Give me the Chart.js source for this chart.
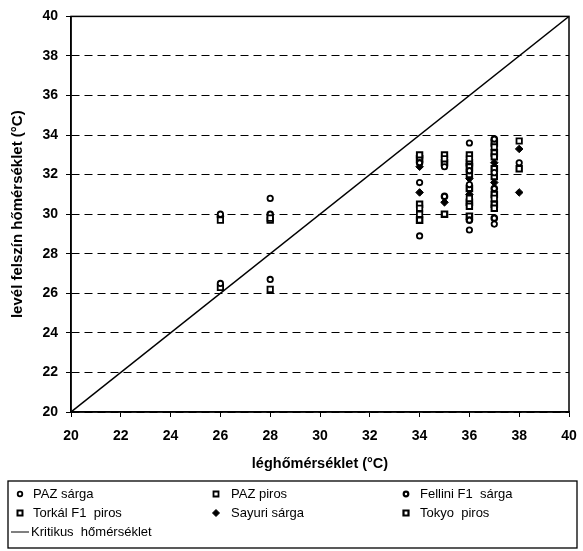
<!DOCTYPE html>
<html>
<head>
<meta charset="utf-8">
<script src="https://cdn.jsdelivr.net/npm/chart.js@4/dist/chart.umd.min.js"></script>
<style>
  html, body { margin: 0; padding: 0; background: #fff; }
  #wrap { width: 583px; height: 551px; }
</style>
</head>
<body>
<div id="wrap"><canvas id="chartHomerseklet" width="583" height="551"></canvas></div>
<script>
// léghőmérséklet (x) és levélhőmérséklet (y) fajtánként
const pazSargaX = [26, 26, 28, 28, 34, 34, 35, 36, 36, 36, 37, 37, 38];
const pazSargaY = [30.0, 26.5, 30.8, 26.7, 31.6, 28.9, 32.4, 33.6, 31.5, 29.2, 32.1, 29.5, 32.6];

const pazPirosX = [26, 26, 28, 28, 34, 34, 35, 36, 36, 37, 37, 38];
const pazPirosY = [29.7, 26.3, 29.8, 26.2, 30.3, 30.0, 32.8, 32.8, 30.8, 33.4, 30.8, 33.7];

const felliniX = [26, 28, 34, 35, 36, 36, 37, 37, 37];
const felliniY = [29.9, 30.0, 32.6, 30.9, 32.2, 29.7, 33.8, 31.3, 29.8];

const torkalX = [28, 34, 34, 35, 36, 36, 36, 37, 37, 37, 38];
const torkalY = [29.7, 33.0, 30.5, 33.0, 33.0, 32.0, 30.4, 32.9, 31.9, 30.3, 32.3];

const sayuriX = [34, 34, 35, 36, 36, 37, 37, 38, 38];
const sayuriY = [31.1, 32.4, 30.6, 31.8, 31.0, 32.6, 31.6, 33.3, 31.1];

const tokyoX = [34, 34, 35, 35, 36, 36, 36, 36, 36, 37, 37, 37, 37, 37];
const tokyoY = [32.8, 29.7, 32.6, 30.0, 32.6, 32.4, 31.3, 30.6, 29.9, 33.6, 33.1, 32.3, 31.0, 30.5];

// kritikus hőmérséklet: levél = levegő
const kritikusX = [20, 40];
const kritikusY = [20, 40];

const FONT = "'Liberation Sans', Arial, sans-serif";

function pontok(xs, ys) {
    return xs.map((x, i) => ({ x: x, y: ys[i] }));
}

function sorozat(label, xs, ys, style, radius, fill, bw) {
    return {
        label: label,
        data: pontok(xs, ys),
        showLine: false,
        pointStyle: style,
        pointRadius: radius,
        pointHoverRadius: radius,
        pointBackgroundColor: fill,
        pointBorderColor: '#000',
        pointBorderWidth: bw
    };
}

const datasets = [
    sorozat('PAZ sárga', pazSargaX, pazSargaY, 'circle', 2.7, '#fff', 1.8),
    sorozat('PAZ piros', pazPirosX, pazPirosY, 'rect', 3.8, '#fff', 1.8),
    sorozat('Fellini F1  sárga', felliniX, felliniY, 'circle', 2.7, '#fff', 2.2),
    sorozat('Torkál F1  piros', torkalX, torkalY, 'rect', 3.8, '#fff', 2),
    sorozat('Sayuri sárga', sayuriX, sayuriY, 'rectRot', 3.8, '#000', 1),
    sorozat('Tokyo  piros', tokyoX, tokyoY, 'rect', 3.8, '#fff', 2.2),
    {
        label: 'Kritikus  hőmérséklet',
        data: pontok(kritikusX, kritikusY),
        showLine: true,
        borderColor: '#000',
        borderWidth: 1.5,
        pointRadius: 0,
        pointHoverRadius: 0,
        fill: false
    }
];

// keret + saját jelmagyarázat dobozban
const keretEsJelmagyarazat = {
    id: 'keretEsJelmagyarazat',
    afterDraw(chart) {
        const { ctx, chartArea: a } = chart;
        ctx.save();
        ctx.strokeStyle = '#000';
        ctx.lineWidth = 1.5;
        ctx.strokeRect(a.left, a.top, a.right - a.left, a.bottom - a.top);

        // doboz
        ctx.lineWidth = 1.3;
        ctx.strokeRect(8, 481, 569, 67);

        const oszlopJel = [20, 216, 406];
        const oszlopSzoveg = [33, 231, 420];
        const sorY = [494, 513, 532];

        ctx.font = '13px ' + FONT;
        ctx.textBaseline = 'middle';
        ctx.fillStyle = '#000';

        chart.data.datasets.forEach((ds, i) => {
            const col = i % 3;
            const row = Math.floor(i / 3);
            const mx = oszlopJel[col];
            const my = sorY[row];
            ctx.strokeStyle = '#000';
            ctx.lineWidth = ds.pointBorderWidth || 1.5;
            ctx.fillStyle = ds.pointBackgroundColor || '#fff';
            if (ds.showLine) {
                ctx.lineWidth = 1;
                ctx.beginPath();
                ctx.moveTo(11, my);
                ctx.lineTo(29, my);
                ctx.stroke();
                ctx.fillStyle = '#000';
                ctx.fillText(ds.label, 31, my);
                return;
            }
            ctx.beginPath();
            if (ds.pointStyle === 'circle') {
                ctx.arc(mx, my, 2.3, 0, Math.PI * 2);
            } else if (ds.pointStyle === 'rect') {
                ctx.rect(mx - 2.5, my - 2.5, 5, 5);
            } else {
                ctx.moveTo(mx, my - 3.5);
                ctx.lineTo(mx + 3.5, my);
                ctx.lineTo(mx, my + 3.5);
                ctx.lineTo(mx - 3.5, my);
                ctx.closePath();
            }
            ctx.fill();
            ctx.stroke();
            ctx.fillStyle = '#000';
            ctx.fillText(ds.label, oszlopSzoveg[col], my);
        });
        ctx.restore();
    }
};

const ctx = document.getElementById('chartHomerseklet').getContext('2d');

new Chart(ctx, {
    type: 'scatter',
    data: { datasets: datasets },
    plugins: [keretEsJelmagyarazat],
    options: {
        responsive: false,
        animation: false,
        events: [],
        layout: { padding: { top: 15, right: 14, bottom: 71, left: 0 } },
        plugins: {
            legend: { display: false },
            tooltip: { enabled: false }
        },
        scales: {
            x: {
                type: 'linear',
                min: 20,
                max: 40,
                afterFit: s => {
                    s.height = 68;
                    s.paddingLeft = 8;
                    s.paddingRight = 8;
                },
                ticks: {
                    stepSize: 2,
                    color: '#000',
                    padding: 11,
                    font: { family: FONT, size: 14, weight: 'bold' }
                },
                grid: {
                    drawOnChartArea: false,
                    drawTicks: true,
                    tickLength: 5,
                    tickColor: '#000',
                    tickWidth: 1
                },
                border: { color: '#000', width: 1.5 },
                title: {
                    display: true,
                    text: 'léghőmérséklet (°C)',
                    color: '#000',
                    font: { family: FONT, size: 14.5, weight: 'bold' },
                    padding: { top: 0, bottom: 7 }
                }
            },
            y: {
                type: 'linear',
                min: 20,
                max: 40,
                afterFit: s => { s.width = 71; },
                ticks: {
                    stepSize: 2,
                    color: '#000',
                    padding: 8,
                    font: { family: FONT, size: 14, weight: 'bold' }
                },
                grid: {
                    color: '#000',
                    lineWidth: 1,
                    drawTicks: true,
                    tickLength: 5,
                    tickColor: '#000',
                    tickWidth: 1,
                    tickBorderDash: []
                },
                border: { color: '#000', width: 1.5, dash: [8, 5] },
                title: {
                    display: true,
                    text: 'levél felszín hőmérséklet (°C)',
                    color: '#000',
                    font: { family: FONT, size: 15, weight: 'bold' },
                    padding: { top: 9, bottom: 0 }
                }
            }
        }
    }
});
</script>
</body>
</html>
